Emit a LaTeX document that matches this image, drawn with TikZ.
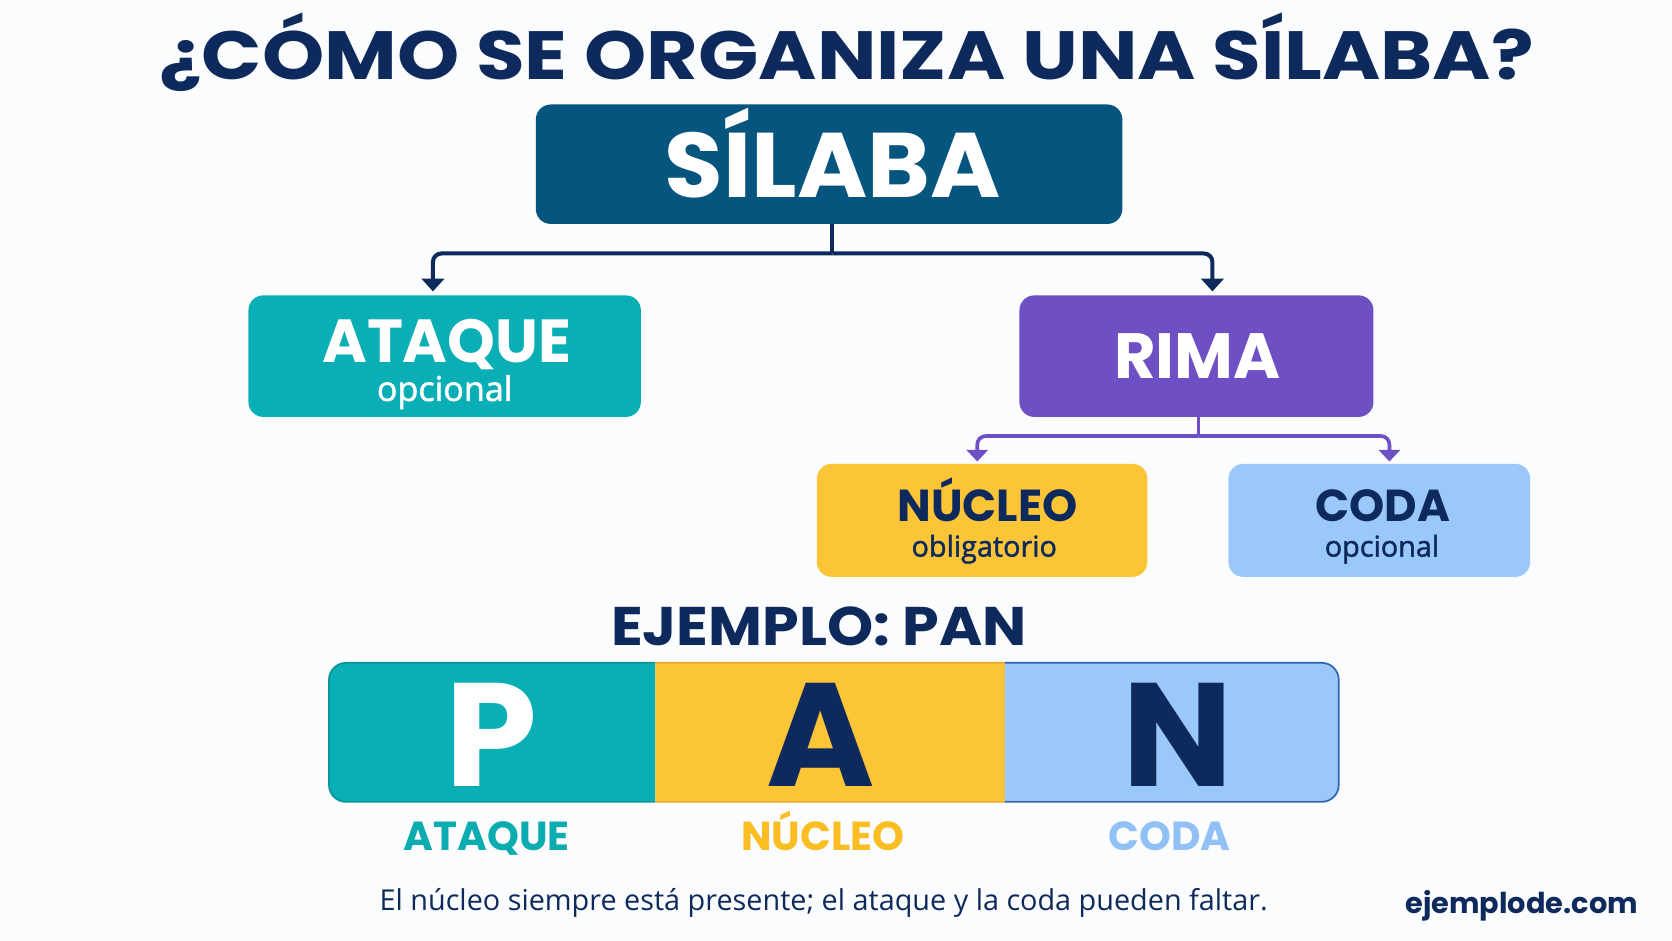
\documentclass[tikz,border=0pt]{standalone}
\usepackage{fontspec}
\setmainfont{Poppins}
\newfontfamily\osans{Open Sans}
\newfontfamily\osansm{Open Sans}[FakeBold=1.5]
\usetikzlibrary{arrows.meta}
\definecolor{navy}{RGB}{14,42,92}
\definecolor{silabac}{RGB}{5,85,127}
\definecolor{tealc}{RGB}{10,175,181}
\definecolor{tealdark}{RGB}{8,150,156}
\definecolor{purplec}{RGB}{111,79,196}
\definecolor{yellowc}{RGB}{252,197,55}
\definecolor{yellowdark}{RGB}{235,170,40}
\definecolor{bluec}{RGB}{155,200,250}
\definecolor{bluedark}{RGB}{50,100,180}
\definecolor{ytext}{RGB}{250,190,35}
\definecolor{btext}{RGB}{145,192,245}
\definecolor{ttext}{RGB}{10,172,176}
\definecolor{bgc}{RGB}{251,252,253}
\tikzset{
  box/.style={rounded corners=14pt, inner sep=0pt, draw=none},
  navyline/.style={draw=navy, line width=3.8pt, rounded corners=8pt},
  navyarrow/.style={navyline, -{Triangle[width=21pt,length=12pt]}},
  purpleline/.style={draw=purplec, line width=3.4pt, rounded corners=8pt},
  purplearrow/.style={purpleline, -{Triangle[width=20pt,length=11pt]}},
  hb/.style={anchor=base, font=\fontsize{#1}{#1}\selectfont\bfseries},
  sub/.style={anchor=base, font=\fontsize{#1}{#1}\selectfont\osansm},
}
\begin{document}
\begin{tikzpicture}[x=1pt,y=-1pt]
\fill[bgc] (0,0) rectangle (1568,882);
\useasboundingbox (0,0) rectangle (1568,882);

% title
\node[hb=64, text=navy] (title) at (794,75) {\scalebox{1.16}[1]{¿CÓMO SE ORGANIZA UNA SÍLABA?}};

% boxes
\node[box, fill=silabac, minimum width=550pt, minimum height=112pt] (silaba) at (777.5,154) {};
\node[hb=86, text=white] (silabaT) at (781,185) {\scalebox{1.04}[1]{SÍLABA}};

\node[box, fill=tealc, minimum width=368pt, minimum height=114pt] (ataque) at (417,334) {};
\node[hb=57, text=white] (ataqueT) at (419,340) {ATAQUE};
\node[sub=32, text=white] (ataqueS) at (417,376) {opcional};

\node[box, fill=purplec, minimum width=332pt, minimum height=114pt] (rima) at (1122,334) {};
\node[hb=60, text=white] (rimaT) at (1123,355) {RIMA};

\node[box, fill=yellowc, minimum width=310pt, minimum height=106pt] (nucleo) at (921,488) {};
\node[hb=42, text=navy] (nucleoT) at (926,489) {NÚCLEO};
\node[sub=27, text=navy] (nucleoS) at (923,522) {obligatorio};

\node[box, fill=bluec, minimum width=283pt, minimum height=106pt] (coda) at (1293.5,488) {};
\node[hb=42, text=navy] (codaT) at (1297,489) {CODA};
\node[sub=27, text=navy] (codaS) at (1296,522) {opcional};

% connectors
\coordinate (j1) at ([xshift=3pt,yshift=-27.5pt]silaba.south);
\draw[navyline] ([xshift=3pt]silaba.south) -- (j1);
\draw[navyarrow] (j1) -| ([xshift=-11pt,yshift=3.5pt]ataque.north);
\draw[navyarrow] (j1) -| ([xshift=15pt,yshift=3.5pt]rima.north);
\coordinate (j2) at ([xshift=2pt,yshift=-17.7pt]rima.south);
\draw[purpleline] ([xshift=2pt]rima.south) -- (j2);
\draw[purplearrow] (j2) -| ([xshift=-4.5pt,yshift=2pt]nucleo.north);
\draw[purplearrow] (j2) -| ([xshift=9.5pt,yshift=2pt]coda.north);

% example
\node[hb=51, text=navy] (ejemplo) at (768,605) {\scalebox{1.08}[1]{EJEMPLO: PAN}};

\begin{scope}
  \clip (300,610) rectangle (614.6,760);
  \draw[draw=tealdark, fill=tealc, line width=1.6pt, rounded corners=16pt] (308.5,621.6) rectangle (1255.5,752);
\end{scope}
\begin{scope}
  \clip (614.6,610) rectangle (942.3,760);
  \draw[draw=yellowdark, fill=yellowc, line width=1.6pt, rounded corners=16pt] (308.5,621.6) rectangle (1255.5,752);
\end{scope}
\begin{scope}
  \clip (942.3,610) rectangle (1265,760);
  \draw[draw=bluedark, fill=bluec, line width=1.6pt, rounded corners=16pt] (308.5,621.6) rectangle (1255.5,752);
\end{scope}
\node[hb=138, text=white] (letP) at (460.5,737.4) {P};
\node[hb=138, text=navy] (letA) at (770,737.4) {A};
\node[hb=138, text=navy] (letN) at (1105,737.4) {N};

\node[hb=38, text=ttext] (labA) at (456.5,797.4) {ATAQUE};
\node[hb=38, text=ytext] (labN) at (771.5,797.4) {NÚCLEO};
\node[hb=38, text=btext] (labC) at (1097,797.4) {CODA};

% footer
\node[anchor=base, font=\fontsize{27}{27}\selectfont\osans, text=navy] (foot) at (772.5,853.6) {El núcleo siempre está presente; el ataque y la coda pueden faltar.};
\node[hb=27, text=navy] (brand) at (1427,856.6) {ejemplode.com};
\end{tikzpicture}
\end{document}
